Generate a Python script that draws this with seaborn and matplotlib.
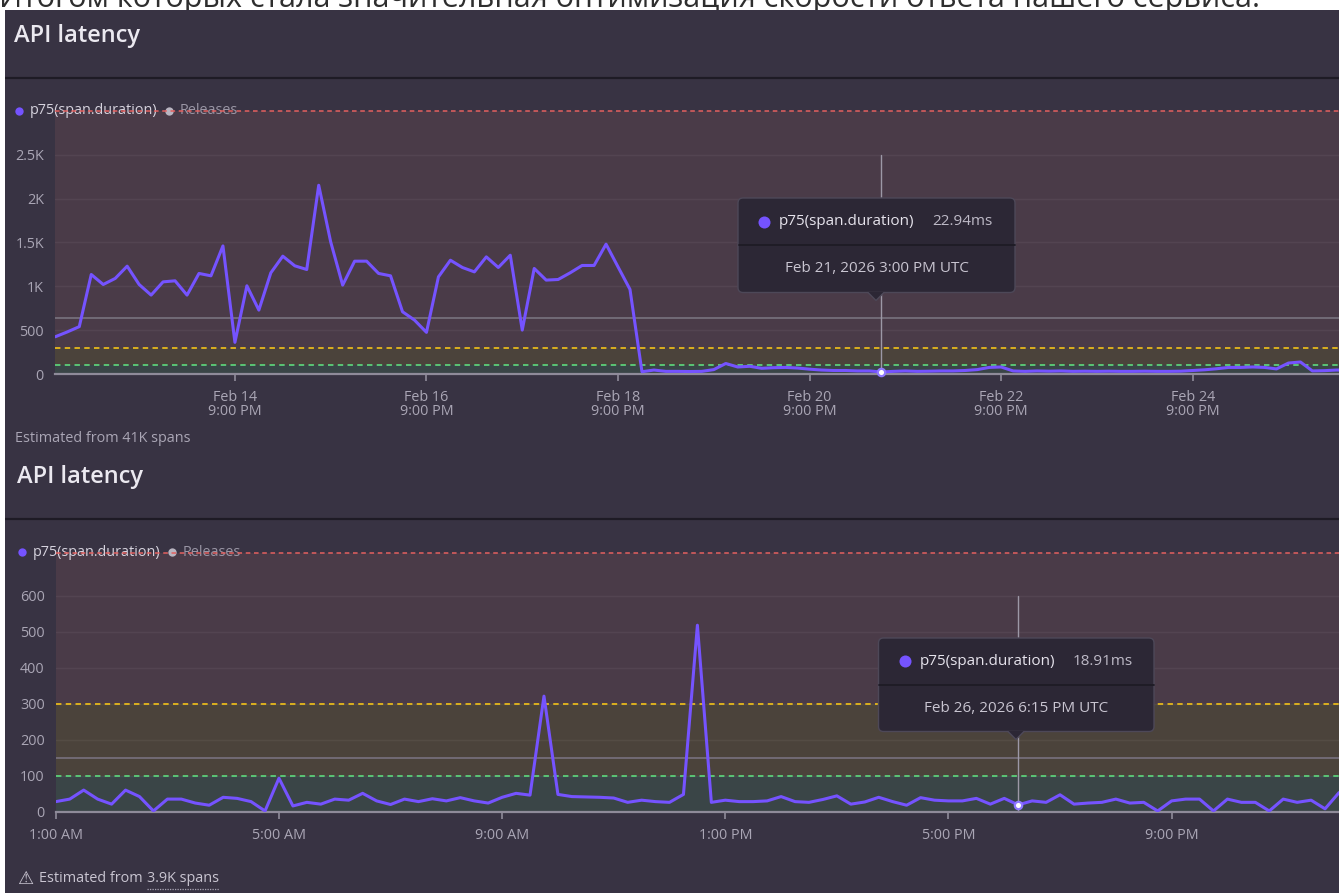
import matplotlib
matplotlib.use("Agg")
import matplotlib.pyplot as plt
from matplotlib.patches import Rectangle, FancyBboxPatch, Polygon
import pandas as pd
import seaborn as sns

# ---------------- data ----------------
series_name = "p75(span.duration)"
releases_name = "Releases"

top_values = [425, 480, 540, 1135, 1021, 1090, 1230, 1021, 900, 1051,
              1063, 900, 1147, 1120, 1461, 361, 1006, 729, 1154, 1344,
              1234, 1192, 2153, 1507, 1014, 1287, 1287, 1147, 1120, 710,
              615, 475, 1108, 1298, 1215, 1165, 1336, 1215, 1355, 501,
              1204, 1071, 1078, 1154, 1238, 1238, 1481, 1222, 965, 26,
              45, 30, 30, 28, 30, 50, 120, 80, 88, 65,
              72, 75, 68, 55, 45, 40, 40, 35, 35, 22.94,
              30, 35, 30, 32, 35, 35, 40, 50, 75, 80,
              35, 30, 35, 32, 35, 30, 32, 30, 32, 30,
              30, 32, 30, 30, 32, 40, 48, 60, 75, 75,
              80, 75, 58, 125, 137, 35, 38, 45, 45]
top_start = "2026-02-13 00:00"
top_step = "3h"
top_xlim = ["2026-02-12 23:55", "2026-02-26 09:40"]
top_xticks = ["2026-02-14 21:00", "2026-02-16 21:00", "2026-02-18 21:00",
              "2026-02-20 21:00", "2026-02-22 21:00", "2026-02-24 21:00"]
top_xticklabels = ["Feb 14\n9:00 PM", "Feb 16\n9:00 PM", "Feb 18\n9:00 PM",
                   "Feb 20\n9:00 PM", "Feb 22\n9:00 PM", "Feb 24\n9:00 PM"]
top_yticks = [0, 500, 1000, 1500, 2000, 2500]
top_yticklabels = ["0", "500", "1K", "1.5K", "2K", "2.5K"]
top_ymax = 3000
top_baseline = 640
top_hover = "2026-02-21 15:00"
top_hover_label = "Feb 21, 2026 3:00 PM UTC"
top_footer = "Estimated from 41K spans"

bottom_values = [28, 35, 60, 35, 21, 60, 42, 2, 35, 35,
                 24, 18, 40, 37, 28, 2, 93, 16, 26, 21,
                 35, 32, 51, 30, 20, 35, 28, 36, 30, 39,
                 30, 24, 40, 51, 46, 321, 48, 42, 41, 40,
                 38, 26, 32, 28, 26, 48, 518, 26, 32, 28,
                 28, 30, 42, 28, 26, 34, 44, 21, 27, 40,
                 28, 18, 39, 32, 30, 30, 37, 21, 37, 18.91,
                 30, 26, 47, 21, 24, 26, 35, 24, 26, 2,
                 30, 35, 35, 2, 35, 26, 26, 2, 35, 26,
                 32, 8, 53]
bottom_start = "2026-02-26 01:00"
bottom_step = "15min"
bottom_xlim = ["2026-02-26 01:00", "2026-02-27 00:00"]
bottom_xticks = ["2026-02-26 01:00", "2026-02-26 05:00", "2026-02-26 09:00",
                 "2026-02-26 13:00", "2026-02-26 17:00", "2026-02-26 21:00"]
bottom_xticklabels = ["1:00 AM", "5:00 AM", "9:00 AM", "1:00 PM", "5:00 PM", "9:00 PM"]
bottom_yticks = [0, 100, 200, 300, 400, 500, 600]
bottom_yticklabels = ["0", "100", "200", "300", "400", "500", "600"]
bottom_ymax = 720
bottom_baseline = 150
bottom_hover = "2026-02-26 18:15"
bottom_hover_label = "Feb 26, 2026 6:15 PM UTC"
bottom_footer_a = "Estimated from"
bottom_footer_b = "3.9K spans"

green_threshold = 100
yellow_threshold = 300
chart_title = "API latency"
intro_text = "Итогом которых стала значительная оптимизация скорости ответа нашего сервиса."

# ---------------- style ----------------
sns.set_theme(style="dark")
plt.rcParams["font.family"] = ["Open Sans", "DejaVu Sans"]

W, H = 1339, 893
PANEL = "#383343"
SEP = "#1e1b25"
GREEN_BAND = "#3a4547"
YELLOW_BAND = "#4b433b"
RED_BAND = "#4a3b48"
RED = "#e5605f"
YELLOW = "#e6b81c"
GREEN = "#5ccf79"
LINE = "#7553ff"
AXIS = "#8f8b9a"
TICKTXT = "#aaa6b5"
TITLE = "#ebe9f0"
FS = 10.4
TT_FS = 11


def rect(x0, y0, x1, y1):
    return [x0 / W, 1 - y1 / H, (x1 - x0) / W, (y1 - y0) / H]


fig = plt.figure(figsize=(W / 100, H / 100), dpi=100)
fig.patch.set_facecolor("white")
renderer = fig.canvas.get_renderer()

bg = fig.add_axes([0, 0, 1, 1], zorder=0)
bg.set_xlim(0, W)
bg.set_ylim(H, 0)
bg.axis("off")


def right_edge(txt):
    ext = txt.get_window_extent(renderer=renderer)
    return bg.transData.inverted().transform((ext.x1, ext.y0))[0]


bg.text(-1, 6.5, intro_text, fontsize=22, color="#2e2e2e", va="baseline",
        ha="left", zorder=0)
bg.add_patch(Rectangle((5, 10), W - 5, H - 10, color=PANEL, zorder=1, lw=0))

for y_sep in (78, 519):
    bg.plot([5, W], [y_sep, y_sep], color=SEP, lw=1.6, zorder=2,
            solid_capstyle="butt")

bg.text(14, 36, chart_title, fontsize=17, fontweight="semibold", color=TITLE,
        va="center", ha="left", zorder=3)
bg.text(17, 477, chart_title, fontsize=17, fontweight="semibold", color=TITLE,
        va="center", ha="left", zorder=3)

bg.text(15, 438, top_footer, fontsize=FS, color=TICKTXT, va="center",
        ha="left", zorder=3)
bg.text(17, 879, "⚠", fontsize=13, color="#c9c5d1", va="center", ha="left",
        zorder=3, family=["DejaVu Sans"])
t1 = bg.text(39, 879, bottom_footer_a, fontsize=FS, color="#c9c5d1",
             va="center", ha="left", zorder=3)
xb = right_edge(t1) + 4
t2 = bg.text(xb, 879, bottom_footer_b, fontsize=FS, color="#c9c5d1",
             va="center", ha="left", zorder=3)
bg.plot([xb, right_edge(t2)], [888.5, 888.5], color="#a8a4b3", lw=0.9,
        ls=(0, (1, 1)), zorder=3)


def legend(ax, x, y):
    tr = bg.transData
    ax.scatter([x], [y], s=36, color=LINE, zorder=1.2, lw=0, transform=tr,
               clip_on=False)
    ta = ax.text(x + 11, y, series_name, fontsize=FS, color="#d6d3de",
                 va="center", ha="left", zorder=1.2, transform=tr)
    xr = right_edge(ta)
    ax.scatter([xr + 11], [y], s=36, color="#b9b5c1", zorder=1.2, lw=0,
               transform=tr, clip_on=False)
    ax.text(xr + 22, y, releases_name, fontsize=FS, color="#9a96a5",
            va="center", ha="left", zorder=1.2, transform=tr)


def draw_chart(box, values, start, step, xlim, xticks, xticklabels, yticks,
               yticklabels, ymax, baseline, hover):
    times = pd.date_range(start, periods=len(values), freq=step)
    ax = fig.add_axes(rect(*box), zorder=1)
    ax.set_facecolor("none")
    ax.axhspan(0, green_threshold, color=GREEN_BAND, lw=0, zorder=0)
    ax.axhspan(green_threshold, yellow_threshold, color=YELLOW_BAND, lw=0, zorder=0)
    ax.axhspan(yellow_threshold, ymax, color=RED_BAND, lw=0, zorder=0)
    for yv in yticks[1:]:
        ax.axhline(yv, color="white", alpha=0.05, lw=1, zorder=0.5)
    ax.axhline(baseline, color="#756e7a", lw=1.3, zorder=1)
    ax.axhline(yellow_threshold, color=YELLOW, lw=1.3, ls=(0, (3, 2.4)), zorder=1.5)
    ax.axhline(green_threshold, color=GREEN, lw=1.3, ls=(0, (3, 2.4)), zorder=1.5)
    ax.axhline(ymax, color=RED, lw=1.1, ls=(0, (3, 2.4)), zorder=1.5, clip_on=False)

    ht = pd.Timestamp(hover)
    ax.plot([ht, ht], [0, yticks[-1]], color="#9c98a6", lw=1, zorder=2)

    sns.lineplot(x=times, y=values, ax=ax, color=LINE, lw=2.2, zorder=3)
    idx = list(times).index(ht)
    ax.scatter([ht], [values[idx]], s=28, facecolor="white", edgecolor="#8f78ff",
               lw=1.6, zorder=5, clip_on=False)

    ax.set_xlim(pd.Timestamp(xlim[0]), pd.Timestamp(xlim[1]))
    ax.set_ylim(0, ymax)
    ax.set_xticks([pd.Timestamp(t) for t in xticks])
    ax.set_xticklabels(xticklabels, linespacing=0.95)
    ax.set_yticks(yticks)
    ax.set_yticklabels(yticklabels)
    ax.set_xlabel("")
    ax.set_ylabel("")
    for s in ("left", "right", "top"):
        ax.spines[s].set_visible(False)
    ax.spines["bottom"].set_color(AXIS)
    ax.spines["bottom"].set_linewidth(1.6)
    ax.tick_params(axis="x", length=5, width=1.2, color=AXIS, labelcolor=TICKTXT,
                   labelsize=FS, pad=6.5, bottom=True)
    ax.tick_params(axis="y", length=0, labelcolor=TICKTXT, labelsize=FS, pad=8)
    ax.grid(False)
    return ax, values[idx]


ax1, v1 = draw_chart((55, 111, W, 374), top_values, top_start, top_step, top_xlim,
                     top_xticks, top_xticklabels, top_yticks, top_yticklabels,
                     top_ymax, top_baseline, top_hover)
ax2, v2 = draw_chart((55.8, 552.5, W, 811.7), bottom_values, bottom_start,
                     bottom_step, bottom_xlim, bottom_xticks, bottom_xticklabels,
                     bottom_yticks, bottom_yticklabels, bottom_ymax,
                     bottom_baseline, bottom_hover)
legend(ax1, 19, 111)
legend(ax2, 22, 552)

# ---------------- tooltips ----------------
ov = fig.add_axes([0, 0, 1, 1], zorder=10)
ov.set_xlim(0, W)
ov.set_ylim(H, 0)
ov.axis("off")


def tooltip(x0, y0, x1, y1, ydiv, tip_x, value, label):
    ov.add_patch(FancyBboxPatch((x0, y0), x1 - x0, y1 - y0,
                                boxstyle="round,pad=0,rounding_size=5",
                                fc="#2c2735", ec="#4d4858", lw=1.0, zorder=1))
    ov.add_patch(Polygon([(tip_x - 8, y1 - 0.5), (tip_x + 8, y1 - 0.5), (tip_x, y1 + 8)],
                         closed=True, fc="#2c2735", ec="none", zorder=2))
    ov.plot([tip_x - 8, tip_x, tip_x + 8], [y1, y1 + 8, y1], color="#4d4858",
            lw=1.0, zorder=2)
    ov.plot([x0 + 0.5, x1 - 0.5], [ydiv, ydiv], color="#1e1b25", lw=1.3, zorder=3)
    cy = (y0 + ydiv) / 2
    ov.scatter([x0 + 26], [cy], s=75, color=LINE, lw=0, zorder=3)
    ov.text(x0 + 41, cy, series_name, fontsize=TT_FS, color="#e6e3ec", va="center",
            ha="left", zorder=3)
    ov.text(x0 + 194, cy, f"{value:.2f}ms", fontsize=TT_FS, color="#bdb9c6",
            va="center", ha="left", zorder=3)
    ov.text((x0 + x1) / 2, (ydiv + y1) / 2, label, fontsize=TT_FS, color="#c9c5d1",
            va="center", ha="center", zorder=3)


tooltip(738, 198, 1015, 292.5, 245, 876, v1, top_hover_label)
tooltip(878.5, 638, 1154, 731.5, 684.5, 1016, v2, bottom_hover_label)

fig.savefig("out.png", dpi=100, facecolor=fig.get_facecolor())
